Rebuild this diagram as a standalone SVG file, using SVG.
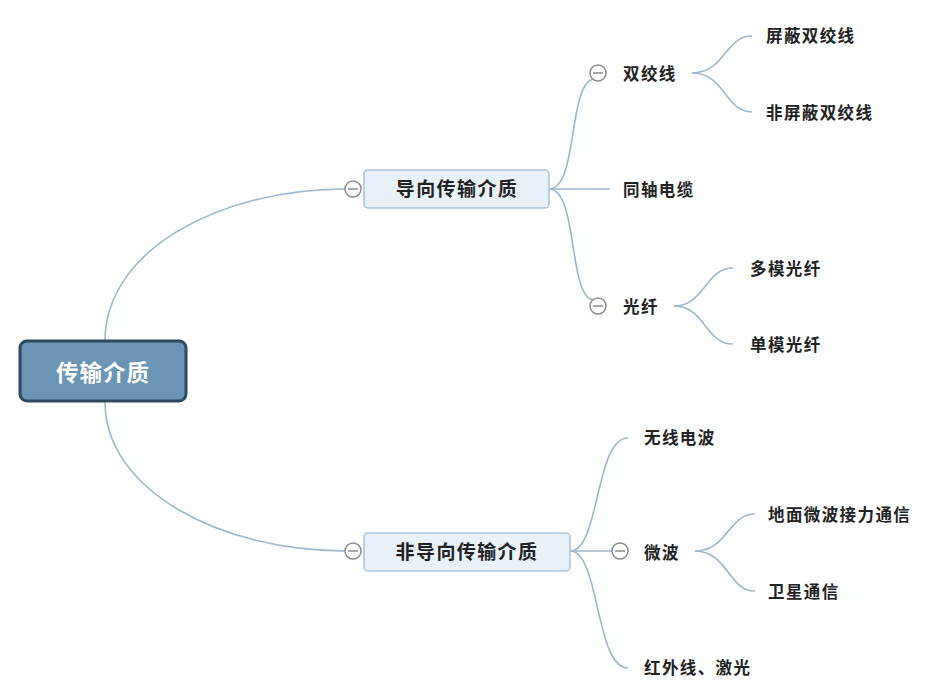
<svg xmlns="http://www.w3.org/2000/svg" width="927" height="687" viewBox="0 0 927 687">
<style>
.bg{fill:#fdfefe}
.ln{fill:none;stroke:#9fb7cc;stroke-width:1.6}
.tp{fill:#e9f1f9;stroke:#a9c1d8;stroke-width:1.5}
.tt{font-family:"Noto Sans CJK SC",sans-serif;font-weight:bold;font-size:19px;fill:#222;letter-spacing:1.4px}
.lf{font-family:"Noto Sans CJK SC",sans-serif;font-weight:bold;font-size:16.5px;fill:#222;letter-spacing:1.4px}
.cc{fill:#fff;stroke:#8c8c8c;stroke-width:1.5}
.cm{stroke:#8c8c8c;stroke-width:1.5}
</style>
<defs>
<g id="col"><circle class="cc" r="8"/><line class="cm" x1="-5" y1="0" x2="5" y2="0"/></g>
</defs>
<rect class="bg" width="927" height="687"/>
<g id="connectors">
<path class="ln" d="M105,341 C105,250 220,189 345,189"/>
<path class="ln" d="M105,402 C105,490 220,551 345,551"/>
<path class="ln" d="M549,189 C578,189 568,85 593,79"/>
<path class="ln" d="M549,189 L610,189"/>
<path class="ln" d="M549,189 C578,189 568,296 593,300"/>
<path class="ln" d="M692,73 C725,73 725,36 752,36"/>
<path class="ln" d="M692,73 C725,73 725,112 752,112"/>
<path class="ln" d="M674,306 C705,306 705,268 733,268"/>
<path class="ln" d="M674,306 C705,306 705,344 733,344"/>
<path class="ln" d="M570,551 C600,551 595,438 628,438"/>
<path class="ln" d="M570,551 L612,551"/>
<path class="ln" d="M570,551 C600,551 595,668 628,668"/>
<path class="ln" d="M695,551 C728,551 728,514 755,514"/>
<path class="ln" d="M695,551 C728,551 728,591 755,591"/>
</g>
<g id="root">
<rect x="20" y="341" width="166" height="60" rx="7" fill="#6a95b5" stroke="#2f4a5f" stroke-width="3"/>
<text x="103" y="381" text-anchor="middle" font-family="'Noto Sans CJK SC',sans-serif" font-weight="bold" font-size="22.5px" fill="#fff" letter-spacing="1">传输介质</text>
</g>
<g id="guided">
<use href="#col" x="353" y="189"/>
<rect class="tp" x="364" y="170" width="185" height="38" rx="4"/>
<text class="tt" x="457" y="196" text-anchor="middle">导向传输介质</text>
</g>
<g id="twisted">
<use href="#col" x="598" y="73"/>
<text class="lf" x="623" y="80">双绞线</text>
</g>
<g id="stp"><text class="lf" x="766" y="42">屏蔽双绞线</text></g>
<g id="utp"><text class="lf" x="766" y="119">非屏蔽双绞线</text></g>
<g id="coax"><text class="lf" x="623" y="196">同轴电缆</text></g>
<g id="fiber">
<use href="#col" x="598" y="306"/>
<text class="lf" x="623" y="313">光纤</text>
</g>
<g id="mmf"><text class="lf" x="750" y="275">多模光纤</text></g>
<g id="smf"><text class="lf" x="750" y="351">单模光纤</text></g>
<g id="unguided">
<use href="#col" x="353" y="551"/>
<rect class="tp" x="364" y="533" width="206" height="38" rx="4"/>
<text class="tt" x="467" y="559" text-anchor="middle">非导向传输介质</text>
</g>
<g id="radio"><text class="lf" x="644" y="444">无线电波</text></g>
<g id="microwave">
<use href="#col" x="620" y="551"/>
<text class="lf" x="644" y="559">微波</text>
</g>
<g id="terrestrial"><text class="lf" x="768" y="521">地面微波接力通信</text></g>
<g id="satellite"><text class="lf" x="768" y="598">卫星通信</text></g>
<g id="infrared"><text class="lf" x="644" y="674">红外线、激光</text></g>
</svg>
